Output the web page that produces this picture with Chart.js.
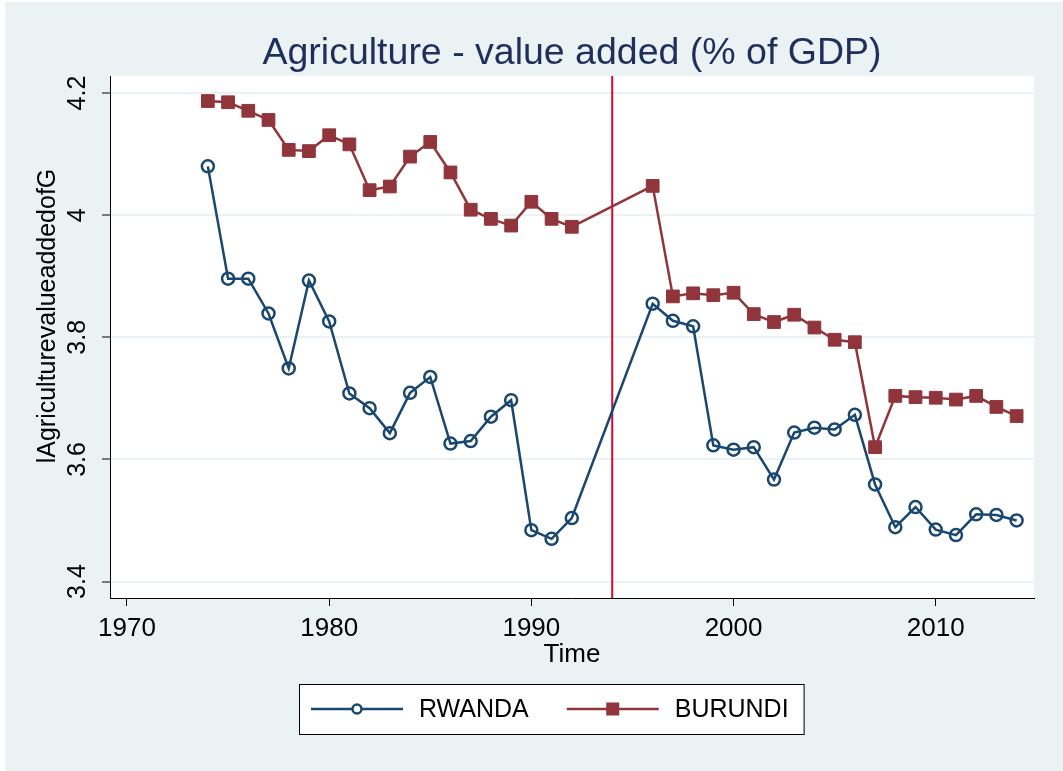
<!DOCTYPE html>
<html>
<head>
<meta charset="utf-8">
<script src="https://cdn.jsdelivr.net/npm/chart.js@4"></script>
<style>
  html, body { margin: 0; padding: 0; background: #fff; }
  #wrap { position: relative; width: 1063px; height: 771px; }
</style>
</head>
<body>
<div id="wrap"><canvas id="agriChart"></canvas></div>
<script>
// data (log of agriculture value added, % of GDP)
const years = [1974, 1975, 1976, 1977, 1978, 1979, 1980, 1981, 1982, 1983,
  1984, 1985, 1986, 1987, 1988, 1989, 1990, 1991, 1992, 1993,
  1994, 1995, 1996, 1997, 1998, 1999, 2000, 2001, 2002, 2003,
  2004, 2005, 2006, 2007, 2008, 2009, 2010, 2011, 2012, 2013, 2014];

const rwanda = [4.080, 3.896, 3.896, 3.839, 3.749, 3.893, 3.826, 3.708, 3.684, 3.643,
  3.709, 3.735, 3.626, 3.630, 3.670, 3.697, 3.484, 3.470, 3.504, null,
  null, null, 3.855, 3.827, 3.818, 3.623, 3.616, 3.620, 3.567, 3.644,
  3.652, 3.649, 3.673, 3.559, 3.489, 3.522, 3.485, 3.476, 3.510, 3.509, 3.500];

const burundi = [4.187, 4.185, 4.171, 4.156, 4.107, 4.105, 4.131, 4.116, 4.041, 4.047,
  4.096, 4.120, 4.070, 4.009, 3.994, 3.983, 4.022, 3.994, 3.981, null,
  null, null, 4.048, 3.867, 3.872, 3.869, 3.873, 3.838, 3.825, 3.837,
  3.816, 3.796, 3.792, 3.620, 3.704, 3.702, 3.701, 3.698, 3.704, 3.686, 3.671];

const seriesNames = ['RWANDA', 'BURUNDI'];
const xTicks = [1970, 1980, 1990, 2000, 2010];
const yTicks = [3.4, 3.6, 3.8, 4.0, 4.2];
const breakYear = 1994; // vertical reference line

const chartTitle = 'Agriculture - value added (% of GDP)';
const yTitle = 'lAgriculturevalueaddedofG';

const BG = '#EAF2F3';
const NAVY = '#1A476F';
const MAROON = '#90353B';
const FONT = '"Liberation Sans", Arial, sans-serif';

Chart.defaults.font.family = FONT;
Chart.defaults.color = '#000';

function toPoints(vals) {
  return years.map((y, i) => ({ x: y, y: vals[i] }));
}

// background, white plot region, vertical line, titles
const stataBackground = {
  id: 'stataBackground',
  beforeDraw(chart) {
    const { ctx, width, height, chartArea } = chart;
    ctx.save();
    ctx.fillStyle = '#fff';
    ctx.fillRect(0, 0, width, height);
    ctx.fillStyle = BG;
    ctx.fillRect(5, 2, width - 5, height - 2);
    ctx.fillStyle = '#fff';
    ctx.fillRect(chartArea.left, chartArea.top, chartArea.right - chartArea.left, chartArea.bottom - chartArea.top);

    // main title, centred over the plot region
    ctx.fillStyle = '#1E2F5C';
    ctx.font = '37.5px ' + FONT;
    ctx.textAlign = 'center';
    ctx.textBaseline = 'middle';
    ctx.fillText(chartTitle, (chartArea.left + chartArea.right) / 2, 54);

    // y axis title
    ctx.fillStyle = '#000';
    ctx.font = '25px ' + FONT;
    ctx.translate(48, 316);
    ctx.rotate(-Math.PI / 2);
    ctx.fillText(yTitle, 0, 0);
    ctx.restore();
  },
  beforeDatasetsDraw(chart) {
    const { ctx, chartArea } = chart;
    const x = chart.scales.x.getPixelForValue(breakYear);
    ctx.save();
    ctx.strokeStyle = '#CC0C2F';
    ctx.lineWidth = 2;
    ctx.beginPath();
    ctx.moveTo(x, chartArea.top);
    ctx.lineTo(x, chartArea.bottom);
    ctx.stroke();
    ctx.restore();
  }
};

// legend in stata style: line + marker sample inside one framed box
const stataLegend = {
  id: 'stataLegend',
  afterDraw(chart) {
    const ctx = chart.ctx;
    const left = 299, top = 684, h = 50;
    const sampleLen = 92, gapText = 16, gapItem = 38;
    ctx.save();
    ctx.font = '25px ' + FONT;
    const items = chart.data.datasets.map(ds => ({ ds, w: ctx.measureText(ds.label).width }));
    let total = 12;
    items.forEach((it, i) => { total += sampleLen + gapText + it.w + (i < items.length - 1 ? gapItem : 0); });
    total += 15;
    ctx.fillStyle = '#fff';
    ctx.fillRect(left, top, total, h);
    ctx.strokeStyle = '#000';
    ctx.lineWidth = 1;
    ctx.strokeRect(left + 0.5, top + 0.5, total, h);
    const cy = top + h / 2;
    let x = left + 12;
    items.forEach(it => {
      const ds = it.ds;
      ctx.strokeStyle = ds.borderColor;
      ctx.lineWidth = 2.5;
      ctx.beginPath();
      ctx.moveTo(x, cy);
      ctx.lineTo(x + sampleLen, cy);
      ctx.stroke();
      const mx = x + sampleLen / 2;
      if (ds.pointStyle === 'circle') {
        ctx.fillStyle = '#fff';
        ctx.beginPath();
        ctx.arc(mx, cy, 4.5, 0, Math.PI * 2);
        ctx.fill();
        ctx.stroke();
      } else {
        ctx.fillStyle = ds.pointBackgroundColor;
        ctx.fillRect(mx - 6.5, cy - 6.5, 13, 13);
      }
      ctx.fillStyle = '#000';
      ctx.textAlign = 'left';
      ctx.textBaseline = 'middle';
      ctx.fillText(ds.label, x + sampleLen + gapText, cy + 1);
      x += sampleLen + gapText + it.w + gapItem;
    });
    ctx.restore();
  }
};

const ctx = document.getElementById('agriChart').getContext('2d');
const agriChart = new Chart(ctx, {
  type: 'line',
  data: {
    datasets: [
      {
        label: seriesNames[0],
        data: toPoints(rwanda),
        borderColor: NAVY,
        borderWidth: 2.5,
        pointStyle: 'circle',
        pointRadius: 6,
        pointBorderWidth: 2.5,
        pointBorderColor: NAVY,
        pointBackgroundColor: 'rgba(0,0,0,0)',
        spanGaps: true,
        tension: 0
      },
      {
        label: seriesNames[1],
        data: toPoints(burundi),
        borderColor: MAROON,
        borderWidth: 2.5,
        pointStyle: 'rect',
        pointRadius: 9,
        pointBorderWidth: 1,
        pointBorderColor: MAROON,
        pointBackgroundColor: MAROON,
        spanGaps: true,
        tension: 0
      }
    ]
  },
  options: {
    responsive: true,
    maintainAspectRatio: false,
    animation: false,
    layout: { padding: { left: 0, right: 29, top: 76, bottom: 93 } },
    plugins: {
      legend: { display: false },
      tooltip: { enabled: false },
      title: { display: false }
    },
    scales: {
      x: {
        type: 'linear',
        min: 1969.16,
        max: 2014.86,
        afterBuildTicks: (scale) => { scale.ticks = xTicks.map(v => ({ value: v })); },
        afterFit: (scale) => { scale.height = 80; },
        ticks: {
          callback: v => String(v),
          font: { size: 26 },
          padding: 7,
          color: '#000',
          maxRotation: 0
        },
        grid: {
          drawOnChartArea: false,
          drawTicks: true,
          tickLength: 8,
          tickColor: '#000',
          tickWidth: 1
        },
        border: { display: true, color: '#000', width: 1 },
        title: {
          display: true,
          text: 'Time',
          font: { size: 26 },
          color: '#000',
          padding: { top: 0, bottom: 8 }
        }
      },
      y: {
        type: 'linear',
        min: 3.373,
        max: 4.228,
        afterBuildTicks: (scale) => { scale.ticks = yTicks.map(v => ({ value: v })); },
        afterFit: (scale) => { scale.width = 110; },
        ticks: {
          callback: v => String(Math.round(v * 10) / 10),
          font: { size: 25 },
          padding: 7,
          color: '#000',
          minRotation: 90,
          maxRotation: 90,
          crossAlign: 'center'
        },
        grid: {
          color: BG,
          lineWidth: 2,
          drawTicks: true,
          tickLength: 8,
          tickColor: '#000',
          tickWidth: 1
        },
        border: { display: true, color: '#000', width: 1 }
      }
    }
  },
  plugins: [stataBackground, stataLegend]
});
</script>
</body>
</html>
